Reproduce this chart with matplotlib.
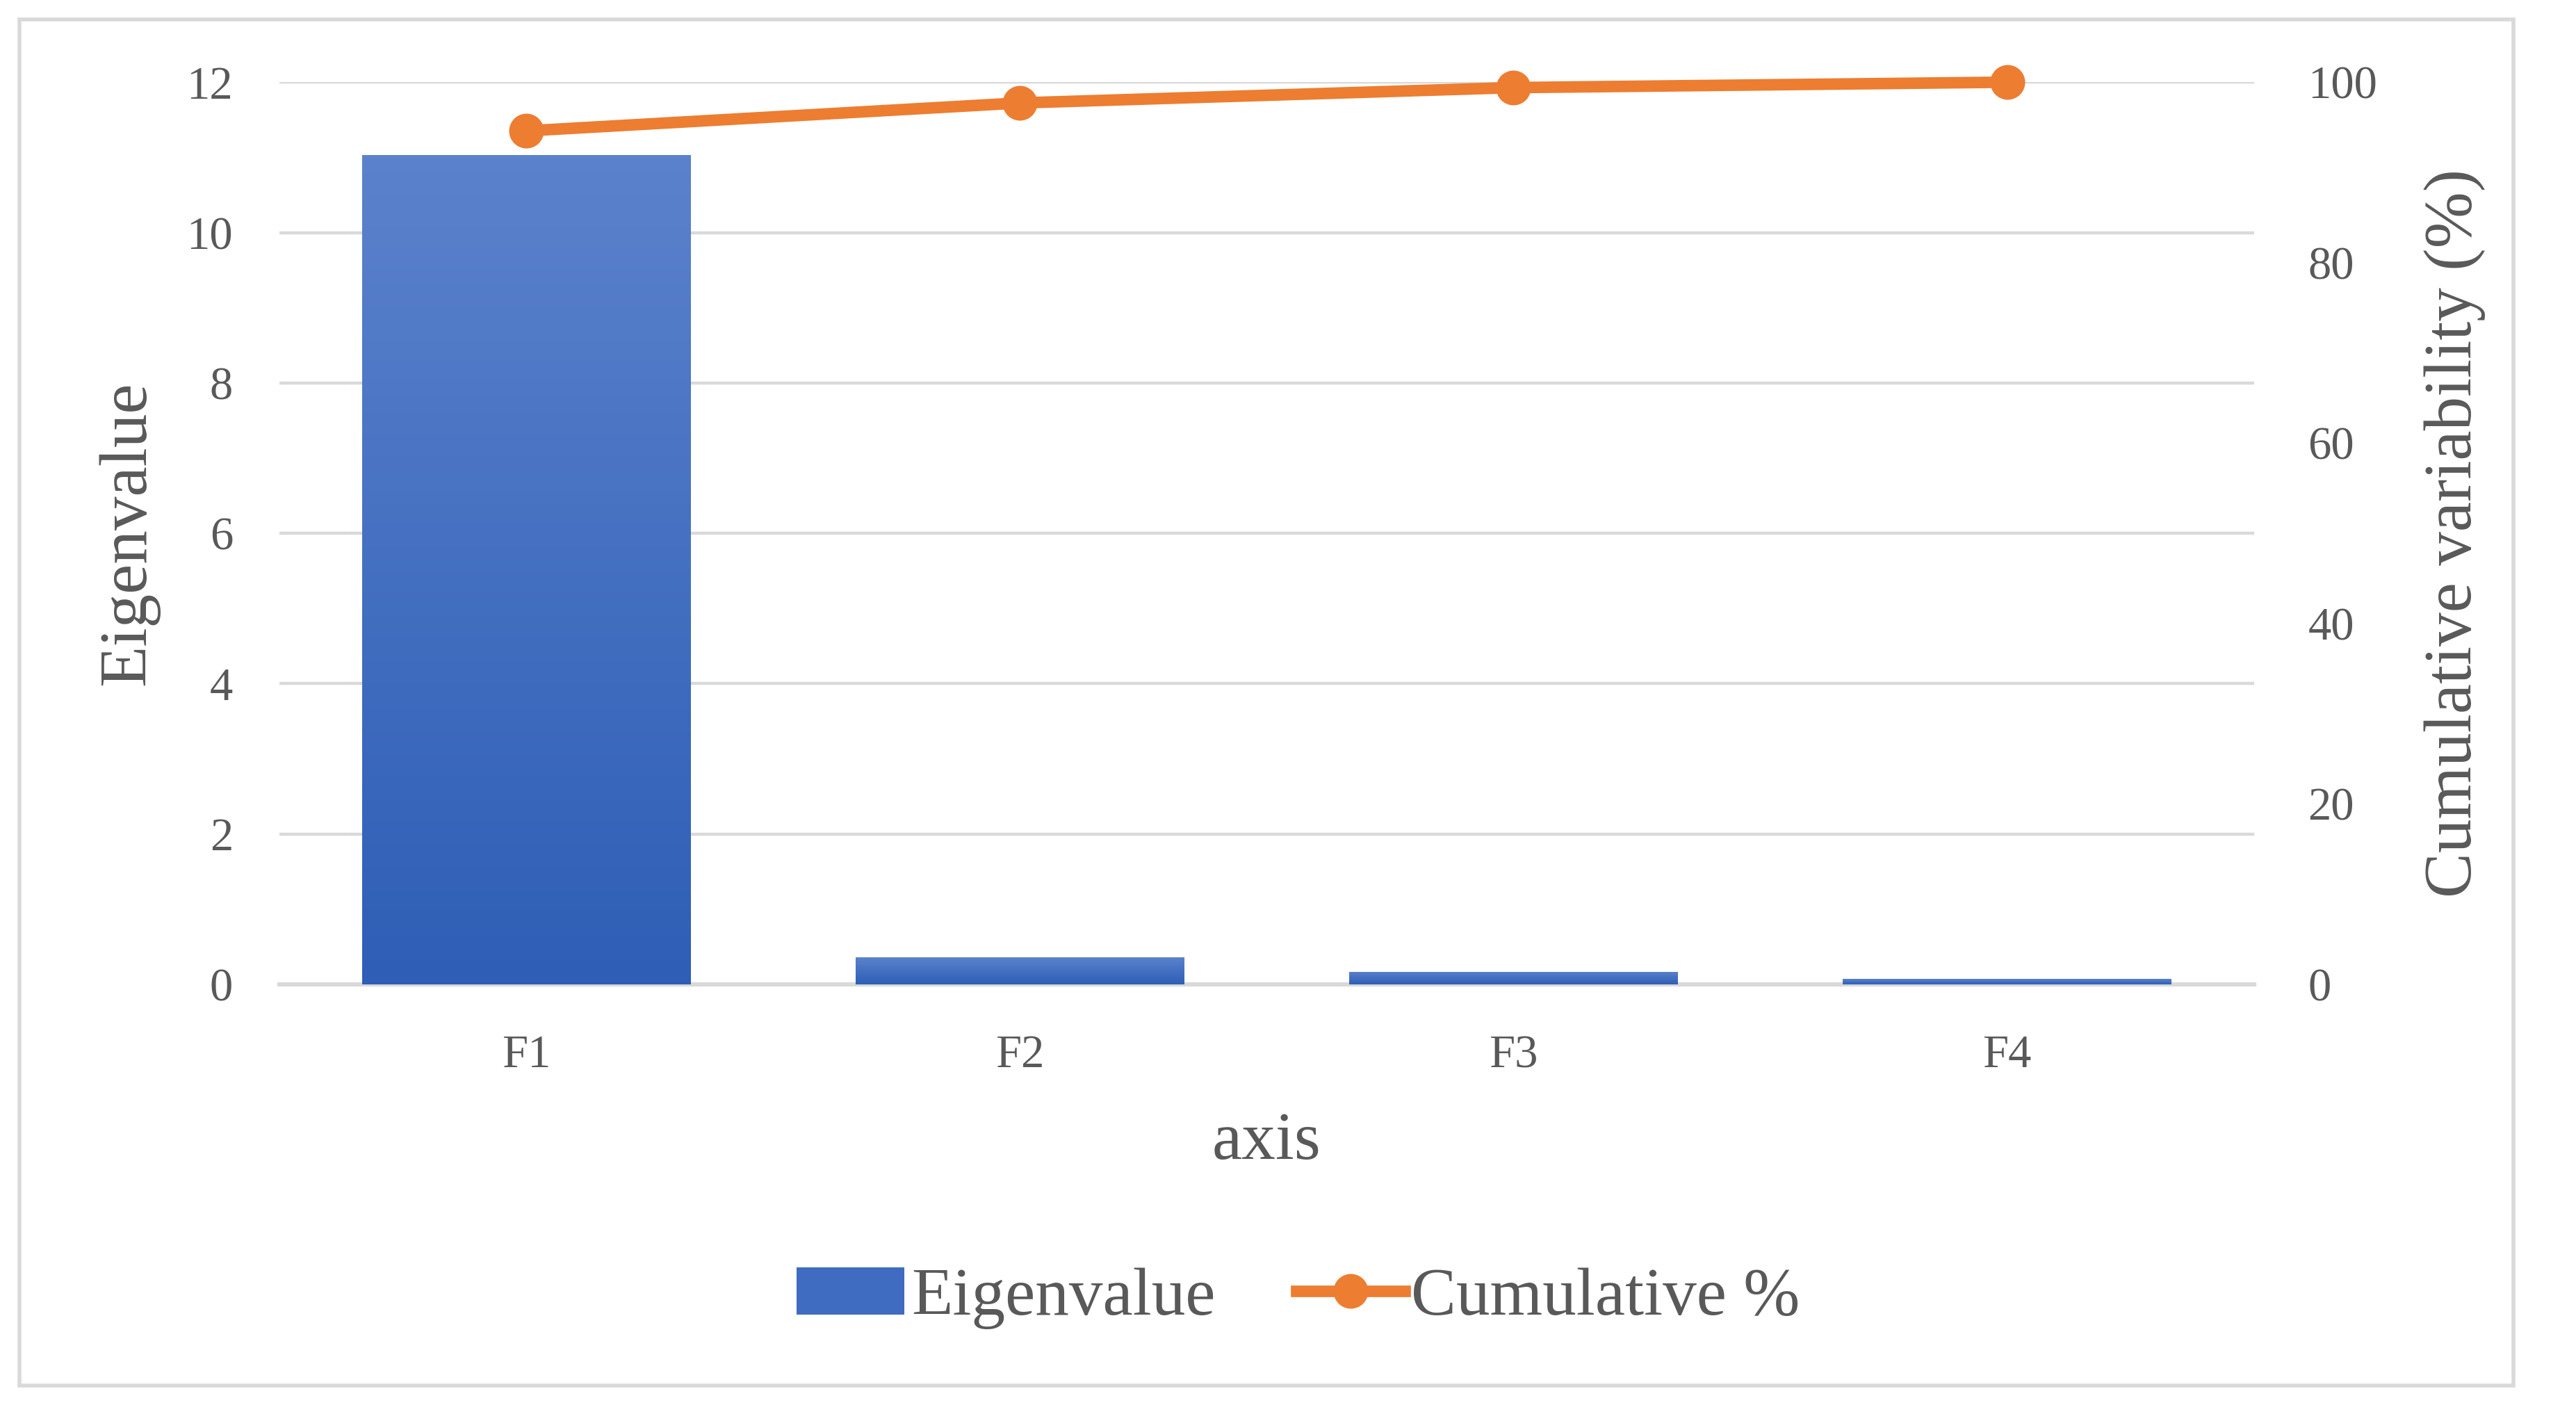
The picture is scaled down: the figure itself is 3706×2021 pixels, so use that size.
import numpy as np
import matplotlib.pyplot as plt
from matplotlib.patches import Rectangle
from matplotlib.lines import Line2D
from matplotlib.colors import LinearSegmentedColormap

# data
factors = ['F1', 'F2', 'F3', 'F4']
eigenvalue = [11.03, 0.36, 0.17, 0.07]
cumulative = [94.6, 97.7, 99.4, 100.0]

plt.rcParams['font.family'] = ['Liberation Serif', 'DejaVu Serif']
grey_text = '#595959'
grid_col = '#d9d9d9'
orange = '#ed7d31'

fig = plt.figure(figsize=(18.53, 10.105), dpi=200)
ax = fig.add_axes([0.1084, 0.2994, 0.875 - 0.1084, 0.9415 - 0.2994])

x = np.arange(len(factors))
bars = ax.bar(x, eigenvalue, width=0.665, color='#4472c4', zorder=2)

# vertical gradient fill for each bar
grad = np.linspace(0, 1, 256).reshape(-1, 1)
cmap = LinearSegmentedColormap.from_list('bluegrad', ['#2e5eb6', '#5b82cc'])
for b in bars:
    x0, y0 = b.get_x(), b.get_y()
    w, h = b.get_width(), b.get_height()
    im = ax.imshow(grad, cmap=cmap, origin='lower', aspect='auto',
                   extent=[x0, x0 + w, y0, y0 + h], zorder=3)
    im.set_clip_path(b)

ax.set_xlim(-0.5, len(factors) - 0.5)
ax.set_ylim(0, 12)
ax.set_yticks(range(0, 13, 2))
ax.set_xticks(x)
ax.set_xticklabels(factors)
ax.yaxis.grid(True, color=grid_col, lw=1.6, zorder=0)
ax.set_axisbelow(True)
for s in ['top', 'right', 'left']:
    ax.spines[s].set_visible(False)
ax.spines['bottom'].set_color(grid_col)
ax.spines['bottom'].set_linewidth(2.2)
ax.tick_params(length=0, labelsize=24, colors=grey_text)
ax.tick_params(axis='y', pad=24)
ax.tick_params(axis='x', pad=26)
ax.set_xlabel('axis', fontsize=35, color=grey_text, labelpad=18)
ax.set_ylabel('Eigenvalue', fontsize=35, color=grey_text, labelpad=14)

ax2 = ax.twinx()
ax2.plot(x, cumulative, color=orange, lw=6, marker='o', markersize=17,
         zorder=5, solid_capstyle='round', clip_on=False)
ax2.set_ylim(0, 100)
ax2.set_yticks(range(0, 101, 20))
for s in ['top', 'right', 'left', 'bottom']:
    ax2.spines[s].set_visible(False)
ax2.tick_params(length=0, labelsize=24, colors=grey_text, pad=28)
ax2.set_ylabel('Cumulative variability (%)', fontsize=35, color=grey_text, labelpad=24)

# legend
handles = [Rectangle((0, 0), 1, 1, facecolor='#3f6cc0'),
           Line2D([0], [0], color=orange, lw=6, marker='o', markersize=17)]
fig.legend(handles, ['Eigenvalue', 'Cumulative %'], loc='center',
           bbox_to_anchor=(0.504, 0.076), ncol=2, frameon=False,
           fontsize=35, labelcolor=grey_text, handlelength=1.6,
           handletextpad=0.1, columnspacing=1.2)

# outer chart border
fig.patches.append(Rectangle((12 / 1568, 12 / 855), (1530 - 12) / 1568, (843 - 12) / 855,
                             transform=fig.transFigure, fill=False,
                             edgecolor=grid_col, lw=2))

fig.savefig('out.png', dpi=200)
